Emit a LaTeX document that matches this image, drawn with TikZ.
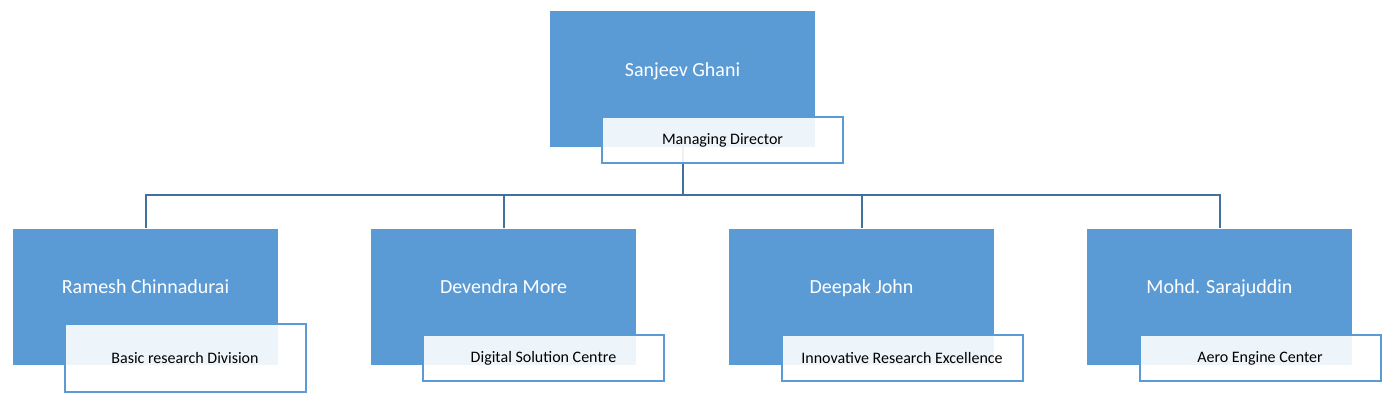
\documentclass[tikz,border=0pt]{standalone}
\usepackage{fontspec}
\setmainfont{Carlito}
\usetikzlibrary{positioning}
\definecolor{boxblue}{HTML}{5B9BD5}
\definecolor{linkblue}{HTML}{41719C}
\tikzset{
  person/.style={rectangle, fill=boxblue, text=white, inner sep=0pt,
    minimum width=198.75pt, minimum height=102pt, font=\fontsize{15}{18}\selectfont,
    text height=11pt, text depth=15pt},
  rolebox/.style={rectangle, draw=boxblue, line width=1.5pt, fill=white, fill opacity=0.9,
    text opacity=1, inner sep=0pt, minimum width=180.75pt, minimum height=34.5pt,
    font=\fontsize{12}{14}\selectfont},
  link/.style={draw=linkblue, line width=1.5pt}
}
\begin{document}
\begin{tikzpicture}[x=0.75pt, y=-0.75pt]
    \useasboundingbox (0,0) rectangle (1395,405);
    \node[person] (md) at (682.5,79) {Sanjeev Ghani};
    \node[person] (p1) at (145.5,296.5) {Ramesh Chinnadurai};
    \node[person] (p2) at (503.5,296.5) {Devendra More};
    \node[person] (p3) at (861.5,296.5) {Deepak John};
    \node[person] (p4) at (1219.5,296.5) {Mohd. Sarajuddin};
    \coordinate (hub) at (682.5,195);
    \draw[link] (md.south) -- (hub);
    \draw[link] (hub) -| (p1.north);
    \draw[link] (hub) -| (p2.north);
    \draw[link] (hub) -| (p3.north);
    \draw[link] (hub) -| (p4.north);
    \node[rolebox] (mdrole) at (722.5,140) {Managing Director};
    \node[rolebox, minimum height=51pt] (p1role) at (185,358) {Basic research Division};
    \node[rolebox] (p2role) at (543.5,358) {Digital Solution Centre};
    \node[rolebox] (p3role) at (902,358) {Innovative Research Excellence};
    \node[rolebox] (p4role) at (1260,358) {Aero Engine Center};
  \end{tikzpicture}
\end{document}
